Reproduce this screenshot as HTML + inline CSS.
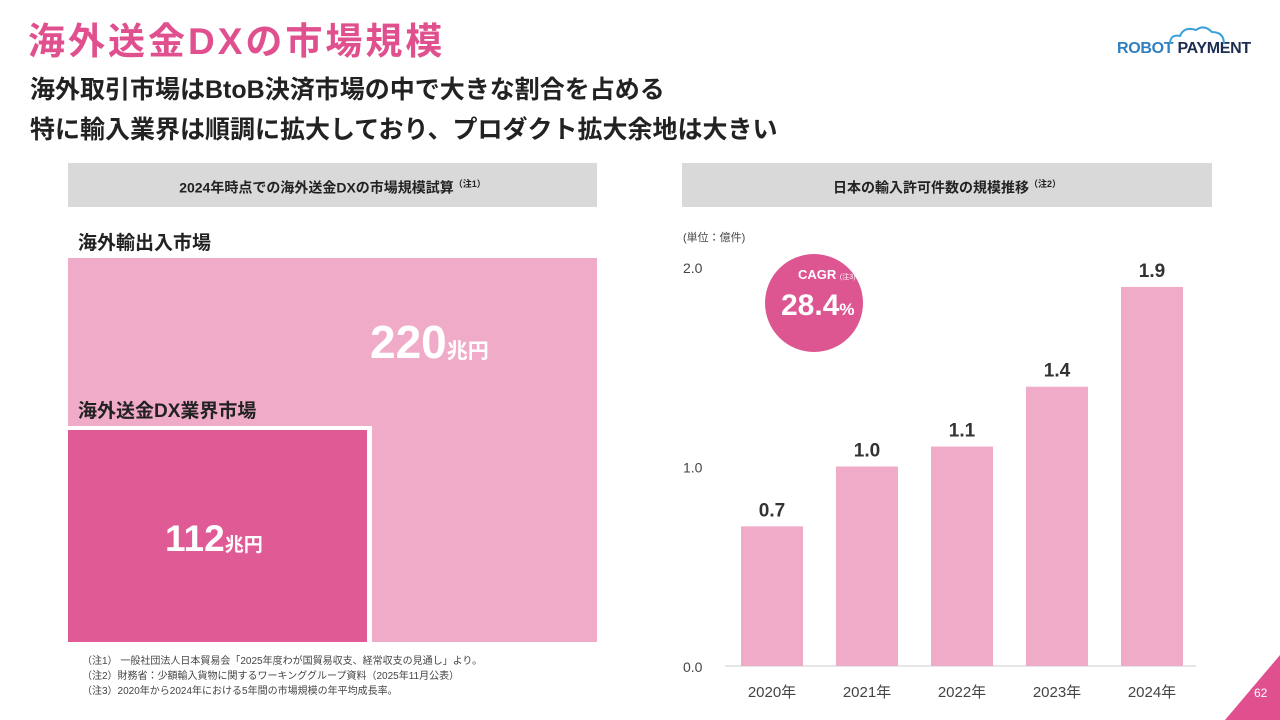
<!DOCTYPE html>
<html><head><meta charset="utf-8"><style>
*{margin:0;padding:0;box-sizing:border-box}
body{width:1280px;height:720px;background:#fff;position:relative;overflow:hidden;font-family:"Liberation Sans","Noto Sans CJK JP",sans-serif;color:#222}
.a{position:absolute}
</style></head><body>
<div class="a" style="left:28px;top:18px;font-size:37px;font-weight:700;color:#e0508f;letter-spacing:3px;line-height:48px">海外送金DXの市場規模</div>
<div class="a" style="left:30px;top:70px;font-size:25px;font-weight:700;line-height:40px;color:#222">海外取引市場はBtoB決済市場の中で大きな割合を占める<br>特に輸入業界は順調に拡大しており、プロダクト拡大余地は大きい</div>
<div class="a" style="left:1117px;top:40px;font-size:16px;font-weight:700;letter-spacing:-0.3px;white-space:nowrap"><span style="color:#2f7fc1">ROBOT</span> <span style="color:#1d2d50">PAYMENT</span></div>
<svg class="a" style="left:1168px;top:24px" width="60" height="22"><path d="M2 20 Q2 10 12 12 Q16 2 28 6 Q36 0 44 8 Q56 8 56 20" fill="none" stroke="#3aa0dc" stroke-width="2"/></svg>

<div class="a" style="left:68px;top:163px;width:529px;height:44px;background:#d9d9d9;text-align:center;line-height:42px;font-size:14px;font-weight:700">2024年時点での海外送金DXの市場規模試算<sup style="font-size:9px">（注1）</sup></div>
<div class="a" style="left:682px;top:163px;width:530px;height:44px;background:#d9d9d9;text-align:center;line-height:42px;font-size:14px;font-weight:700">日本の輸入許可件数の規模推移<sup style="font-size:9px">（注2）</sup></div>

<div class="a" style="left:78px;top:228px;font-size:19px;font-weight:700">海外輸出入市場</div>
<div class="a" style="left:68px;top:258px;width:529px;height:384px;background:#f0abc8"></div>
<div class="a" style="left:370px;top:315px;color:#fff;font-weight:700;font-size:46px">220<span style="font-size:21px">兆円</span></div>
<div class="a" style="left:78px;top:396px;font-size:19px;font-weight:700">海外送金DX業界市場</div>
<div class="a" style="left:68px;top:426px;width:304px;height:216px;background:#e05a95;border-top:4px solid #fff;border-right:5px solid #fff"></div>
<div class="a" style="left:165px;top:518px;color:#fff;font-weight:700;font-size:37px">112<span style="font-size:19px">兆円</span></div>
<div class="a" style="left:82px;top:654px;font-size:10px;line-height:15px;color:#444">（注1） 一般社団法人日本貿易会「2025年度わが国貿易収支、経常収支の見通し」より。<br>（注2）財務省：少額輸入貨物に関するワーキンググループ資料（2025年11月公表）<br>（注3）2020年から2024年における5年間の市場規模の年平均成長率。</div>

<div class="a" style="left:683px;top:229px;font-size:11px;color:#444">(単位：億件)</div>
<svg id="chart" class="a" style="left:0;top:0" width="1280" height="720"></svg>
<div class="a" style="left:765px;top:254px;width:98px;height:98px;border-radius:50%;background:#dd5591;color:#fff">
<div class="a" style="left:33px;top:13px;font-size:13px;font-weight:700;line-height:16px;white-space:nowrap">CAGR <span style="font-size:7px;font-weight:400">(注3)</span></div>
<div class="a" style="left:16px;top:35px;font-size:30px;font-weight:700;line-height:34px;white-space:nowrap">28.4<span style="font-size:17px">%</span></div></div>

<svg class="a" style="left:1225px;top:655px" width="55" height="65"><polygon points="55,0 55,65 0,65" fill="#e0508f"/></svg>
<div class="a" style="left:1254px;top:686px;color:#fff;font-size:12px">62</div>
<script>
const categories=["2020年","2021年","2022年","2023年","2024年"];
const values=[0.7,1.0,1.1,1.4,1.9];
const valueLabels=["0.7","1.0","1.1","1.4","1.9"];
const ticks=[0,1,2];
const tickLabels=["0.0","1.0","2.0"];
const svg=document.getElementById('chart');
const NS='http://www.w3.org/2000/svg';
const y=v=>666-v*199.5;
const x=i=>741+i*95;
function mk(t,a){const e=document.createElementNS(NS,t);for(const k in a)e.setAttribute(k,a[k]);svg.appendChild(e);return e;}
ticks.forEach((t,i)=>{const e=mk('text',{x:683,y:y(t)+6,'font-size':14,fill:'#444'});e.textContent=tickLabels[i];

});
const base=mk('line',{x1:725,x2:1196,y1:666,y2:666,stroke:'#ccc','stroke-width':1});


values.forEach((v,i)=>{
const r=mk('rect',{x:x(i),y:y(v),width:62,height:666-y(v),fill:'#f0abc8'});


const l=mk('text',{x:x(i)+31,y:y(v)-10,'text-anchor':'middle','font-size':19,'font-weight':700,fill:'#333'});l.textContent=valueLabels[i];


const c=mk('text',{x:x(i)+31,y:697,'text-anchor':'middle','font-size':15,fill:'#444'});c.textContent=categories[i];


});
</script>
</body></html>
